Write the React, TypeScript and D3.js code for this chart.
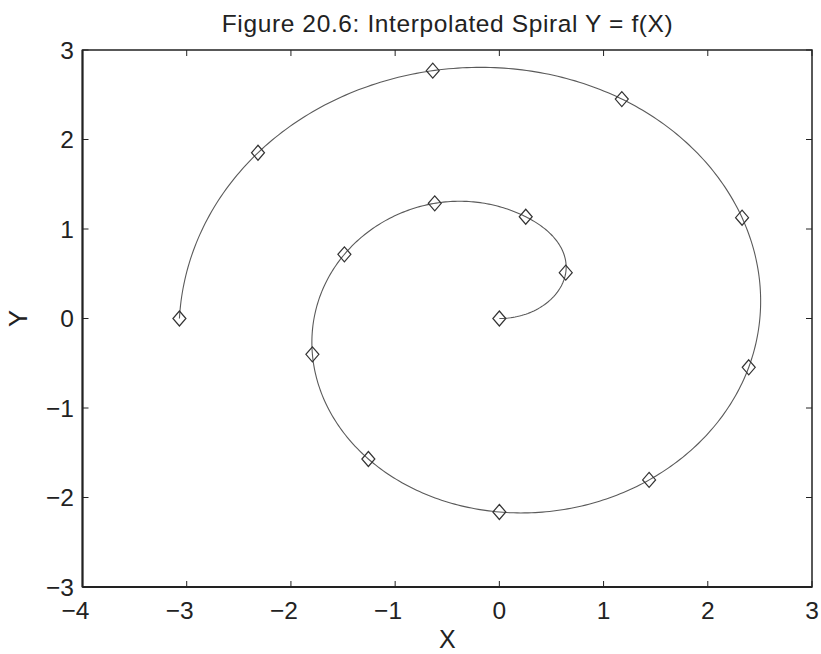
import React from "react";
import * as d3 from "d3";

// Spiral sample points, in drawing order from the centre outward
const pointX = [0, 0.637, 0.253, -0.62, -1.487, -1.794, -1.257, 0, 1.437, 2.393, 2.329, 1.175, -0.639, -2.316, -3.07];
const pointY = [0, 0.512, 1.137, 1.287, 0.717, -0.4, -1.57, -2.162, -1.804, -0.545, 1.126, 2.452, 2.769, 1.852, 0];

const xTicks = [-4, -3, -2, -1, 0, 1, 2, 3];
const yTicks = [-3, -2, -1, 0, 1, 2, 3];

const titleText = "Figure 20.6: Interpolated Spiral Y = f(X)";
const xLabel = "X";
const yLabel = "Y";

const W = 821;
const H = 654;
const left = 82.5;
const right = 812;
const top = 50;
const bottom = 587;
const FONT = "'Liberation Sans', Arial, Helvetica, sans-serif";
const INK = "#222";

const fmt = (v: number) => (v < 0 ? "\u2212" + Math.abs(v) : String(v));

// Natural cubic spline through (t[i], v[i]); returns an evaluator.
function naturalSpline(t: number[], v: number[]) {
  const n = t.length;
  const h = d3.range(n - 1).map((i) => t[i + 1] - t[i]);
  const M = new Array(n).fill(0);
  if (n > 2) {
    const a: number[] = [], b: number[] = [], c: number[] = [], d: number[] = [];
    for (let i = 1; i < n - 1; i++) {
      a.push(h[i - 1]);
      b.push(2 * (h[i - 1] + h[i]));
      c.push(h[i]);
      d.push(6 * ((v[i + 1] - v[i]) / h[i] - (v[i] - v[i - 1]) / h[i - 1]));
    }
    const m = b.length;
    for (let i = 1; i < m; i++) {
      const w = a[i] / b[i - 1];
      b[i] -= w * c[i - 1];
      d[i] -= w * d[i - 1];
    }
    const sol = new Array(m).fill(0);
    sol[m - 1] = d[m - 1] / b[m - 1];
    for (let i = m - 2; i >= 0; i--) sol[i] = (d[i] - c[i] * sol[i + 1]) / b[i];
    for (let i = 0; i < m; i++) M[i + 1] = sol[i];
  }
  return (s: number) => {
    let i = d3.bisectRight(t, s) - 1;
    i = Math.max(0, Math.min(n - 2, i));
    const hi = h[i];
    const A = (t[i + 1] - s) / hi;
    const B = (s - t[i]) / hi;
    return A * v[i] + B * v[i + 1] + ((A * A * A - A) * M[i] + (B * B * B - B) * M[i + 1]) * (hi * hi) / 6;
  };
}

export default function App() {
  const x = d3.scaleLinear().domain([-4, 3]).range([left, right]);
  const y = d3.scaleLinear().domain([-3, 3]).range([bottom, top]);

  const pts: [number, number][] = pointX.map((v, i) => [v, pointY[i]]);

  // Interpolate the spiral in polar form: unwrapped angle vs. radius
  const theta: number[] = [];
  const radius: number[] = [];
  pts.forEach(([px, py], i) => {
    radius.push(Math.hypot(px, py));
    if (i === 0) {
      theta.push(0);
    } else {
      const prev = theta[i - 1];
      let a = Math.atan2(py, px);
      while (a <= prev) a += 2 * Math.PI;
      while (a - prev > 2 * Math.PI) a -= 2 * Math.PI;
      theta.push(a);
    }
  });
  const rOf = naturalSpline(theta, radius);
  const steps = 600;
  const t0 = theta[0];
  const t1 = theta[theta.length - 1];
  const curvePts: [number, number][] = d3.range(steps + 1).map((k) => {
    const s = t0 + ((t1 - t0) * k) / steps;
    const r = rOf(s);
    return [r * Math.cos(s), r * Math.sin(s)];
  });
  const path = d3
    .line<[number, number]>()
    .x((d) => x(d[0]))
    .y((d) => y(d[1]))(curvePts) as string;

  const tickLen = 6;
  const digitHalf = 6.9;

  return (
    <svg
      width={W}
      height={H}
      style={{ position: "absolute", left: 0, top: 0, background: "#fff" }}
      fontFamily={FONT}
    >
      {/* title */}
      <text
        x={(left + right) / 2}
        y={31.5}
        textAnchor="middle"
        fontSize={24.5}
        textLength={451}
        lengthAdjust="spacing"
        fill={INK}
      >
        {titleText}
      </text>

      {/* interpolated curve */}
      <path d={path} fill="none" stroke="#5a5a5a" strokeWidth={1.1} />

      {/* diamond markers */}
      {pts.map((d, i) => {
        const cx = x(d[0]);
        const cy = y(d[1]);
        return (
          <polygon
            key={i}
            points={`${cx},${cy - 7.5} ${cx + 6.5},${cy} ${cx},${cy + 7.5} ${cx - 6.5},${cy}`}
            fill="none"
            stroke="#333"
            strokeWidth={1.2}
          />
        );
      })}

      {/* ticks on all four sides, pointing inward */}
      {xTicks.map((t) => (
        <g key={"xt" + t}>
          <line x1={x(t)} x2={x(t)} y1={bottom} y2={bottom - tickLen} stroke={INK} strokeWidth={1} />
          <line x1={x(t)} x2={x(t)} y1={top} y2={top + tickLen} stroke={INK} strokeWidth={1} />
          <text x={x(t) + digitHalf} y={619} textAnchor="end" fontSize={24.5} fill={INK}>
            {fmt(t)}
          </text>
        </g>
      ))}
      {yTicks.map((t) => (
        <g key={"yt" + t}>
          <line x1={left} x2={left + tickLen} y1={y(t)} y2={y(t)} stroke={INK} strokeWidth={1} />
          <line x1={right} x2={right - tickLen} y1={y(t)} y2={y(t)} stroke={INK} strokeWidth={1} />
          <text x={74} y={y(t) + 8.8} textAnchor="end" fontSize={24.5} fill={INK}>
            {fmt(t)}
          </text>
        </g>
      ))}

      {/* axes box */}
      <rect x={left} y={top} width={right - left} height={bottom - top} fill="none" stroke={INK} strokeWidth={1.5} />
      <line x1={left} x2={right} y1={bottom} y2={bottom} stroke={INK} strokeWidth={2} />
      <line x1={left} x2={left} y1={top} y2={bottom} stroke={INK} strokeWidth={2} />

      {/* axis labels */}
      <text x={(left + right) / 2} y={648} textAnchor="middle" fontSize={25} fill={INK}>
        {xLabel}
      </text>
      <text
        transform={`translate(26.5, ${y(0)}) rotate(-90)`}
        textAnchor="middle"
        fontSize={25.5}
        fill={INK}
      >
        {yLabel}
      </text>
    </svg>
  );
}
